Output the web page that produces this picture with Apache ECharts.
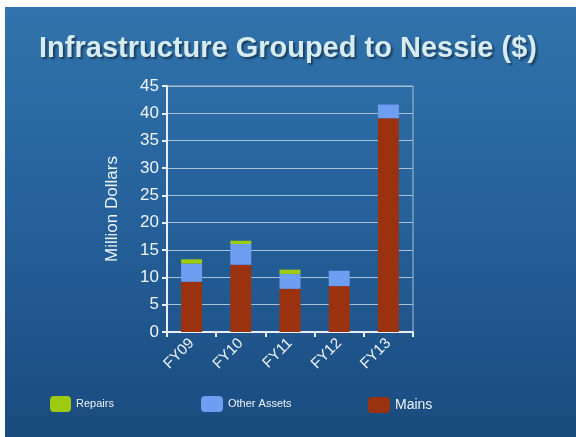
<!DOCTYPE html>
<html><head><meta charset="utf-8">
<script src="https://cdn.jsdelivr.net/npm/echarts@6/dist/echarts.min.js"></script>
<style>html,body{margin:0;padding:0;background:#fff}#c{width:576px;height:437px}</style>
</head><body><div id="c"></div>
<script>
const categories = ['FY09','FY10','FY11','FY12','FY13'];
const mains = [9.2, 12.3, 7.9, 8.4, 39.1];
const otherAssets = [3.3, 3.8, 2.7, 2.8, 2.5];
const repairs = [0.8, 0.6, 0.8, 0, 0];
const yTicks = [0,5,10,15,20,25,30,35,40,45];

const chart = echarts.init(document.getElementById('c'));
const txt = '#eef4f6';
chart.setOption({
  backgroundColor: '#ffffff',
  graphic: [{
    type: 'rect', left: 5, top: 7, z: -10,
    shape: {width: 571, height: 430},
    style: {fill: new echarts.graphic.LinearGradient(0,0,0,1,[
      {offset:0,color:'#3173ac'},{offset:0.5,color:'#25609a'},{offset:1,color:'#1a4b7e'}])}
  }],
  title: {
    text: 'Infrastructure Grouped to Nessie ($)',
    left: 'center', top: 29,
    textStyle: {color:'#d6ecf0', fontSize: 29, fontWeight:'bold', fontFamily:'Liberation Sans, Arial',
      textShadowColor:'rgba(0,0,0,0.45)', textShadowBlur:2, textShadowOffsetX:2, textShadowOffsetY:2}
  },
  legend: [
    {data:['Repairs'], left:45, top:391, itemWidth:21, itemHeight:16, itemGap:6,
      textStyle:{color:txt, fontSize:11, fontFamily:'Liberation Sans, Arial'}},
    {data:['Other Assets'], left:196, top:391, itemWidth:22, itemHeight:16,
      textStyle:{color:txt, fontSize:11, fontFamily:'Liberation Sans, Arial'}},
    {data:['Mains'], left:363, top:392, itemWidth:22, itemHeight:16,
      textStyle:{color:txt, fontSize:14, fontFamily:'Liberation Sans, Arial'}}
  ],
  grid: {left:167, right:163, top:86, bottom:105, containLabel:false,
    show:true, borderColor:'#aabfd2', borderWidth:1},
  xAxis: {
    type:'category', data: categories,
    axisLine:{lineStyle:{color:'#e8eef2', width:2}},
    axisTick:{show:true, length:5, lineStyle:{color:'#e8eef2', width:2}},
    axisLabel:{rotate:45, color:txt, fontSize:15, fontFamily:'Liberation Sans, Arial', margin:9}
  },
  yAxis: {
    type:'value', min:0, max:45, interval:5,
    name:'Million Dollars', nameLocation:'middle', nameGap:46,
    nameTextStyle:{color:txt, fontSize:17, fontFamily:'Liberation Sans, Arial'},
    axisLine:{show:true, lineStyle:{color:'#e8eef2', width:2}},
    axisTick:{show:true, length:5, lineStyle:{color:'#e8eef2', width:2}},
    axisLabel:{color:txt, fontSize:17, fontFamily:'Liberation Sans, Arial', margin:8,
      formatter: v => yTicks.includes(v) ? String(v) : ''},
    splitLine:{show:true, lineStyle:{color:'#aabfd2', width:1}}
  },
  series: [
    {name:'Mains', type:'bar', stack:'s', data:mains, barWidth:21, itemStyle:{color:'#9a3210'}},
    {name:'Other Assets', type:'bar', stack:'s', data:otherAssets, itemStyle:{color:'#6e9ef2'}},
    {name:'Repairs', type:'bar', stack:'s', data:repairs, itemStyle:{color:'#9ccb10'}}
  ]
});
</script></body></html>
